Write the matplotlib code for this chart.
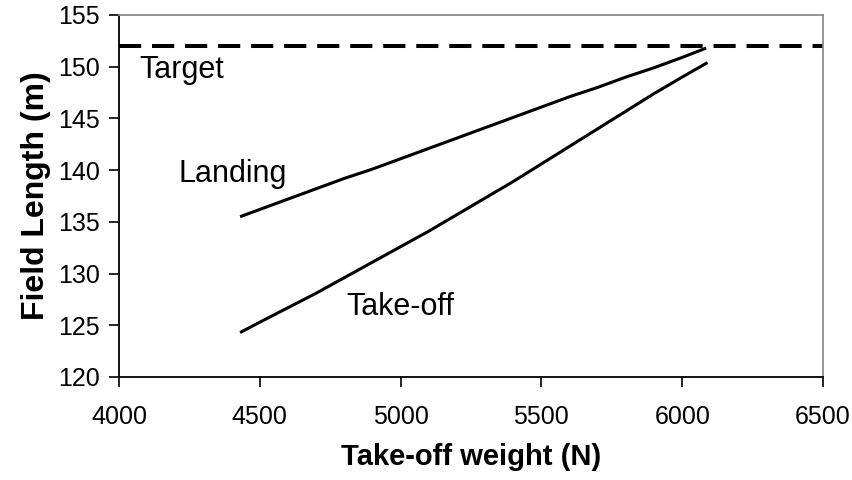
import matplotlib
matplotlib.use("Agg")
import matplotlib.pyplot as plt

plt.rcParams['font.family'] = ['Liberation Sans', 'DejaVu Sans']

# Data
takeoff_w = [4430, 4500, 4600, 4700, 4800, 4900, 5000, 5100, 5200, 5300,
             5400, 5500, 5600, 5700, 5800, 5900, 6000, 6090]
takeoff_len = [124.3, 125.3, 126.7, 128.1, 129.6, 131.1, 132.6, 134.1, 135.7, 137.3,
               138.9, 140.6, 142.3, 144.0, 145.7, 147.4, 149.0, 150.4]
landing_w = [4430, 4500, 4600, 4700, 4800, 4900, 5000, 5100, 5200, 5300,
             5400, 5500, 5600, 5700, 5800, 5900, 6000, 6085]
landing_len = [135.5, 136.2, 137.2, 138.2, 139.2, 140.1, 141.1, 142.1, 143.1, 144.1,
               145.1, 146.1, 147.1, 148.0, 149.0, 149.9, 150.9, 151.8]
target_len = 152.0
x_range = [4000, 6500]
y_range = [120, 155]
x_ticks = [4000, 4500, 5000, 5500, 6000, 6500]
y_ticks = [120, 125, 130, 135, 140, 145, 150, 155]

fig = plt.figure(figsize=(8.53, 4.8), dpi=100)
ax = fig.add_axes([119/853, 1 - 377/480, (823-119)/853, (377-15)/480])

ax.plot(landing_w, landing_len, color='black', lw=2.2, solid_capstyle='butt')
ax.plot(takeoff_w, takeoff_len, color='black', lw=2.2, solid_capstyle='butt')
ax.plot(x_range, [target_len, target_len], color='black', lw=2.9,
        dashes=(5.5, 2.7), dash_capstyle='butt', clip_on=False)

ax.text(4071, 148.9, 'Target', fontsize=22, va='baseline', ha='left')
ax.text(4212, 138.9, 'Landing', fontsize=22, va='baseline', ha='left')
ax.text(4808, 126.0, 'Take-off', fontsize=22, va='baseline', ha='left')

ax.set_xlim(*x_range)
ax.set_ylim(*y_range)
ax.set_xticks(x_ticks)
ax.set_yticks(y_ticks)
ax.tick_params(axis='both', direction='out', length=7, width=1.2, labelsize=18, colors='black')
ax.tick_params(axis='y', pad=7)
ax.tick_params(axis='x', pad=13)

for s in ['left', 'bottom']:
    ax.spines[s].set_color('black')
    ax.spines[s].set_linewidth(1.3)
for s in ['top', 'right']:
    ax.spines[s].set_color('#8c8c8c')
    ax.spines[s].set_linewidth(1.3)

ax.set_xlabel('Take-off weight (N)', fontsize=21, fontweight='bold', labelpad=10)
ax.set_ylabel('Field Length (m)', fontsize=23, fontweight='bold', labelpad=5)

fig.savefig('out.png', dpi=100)
